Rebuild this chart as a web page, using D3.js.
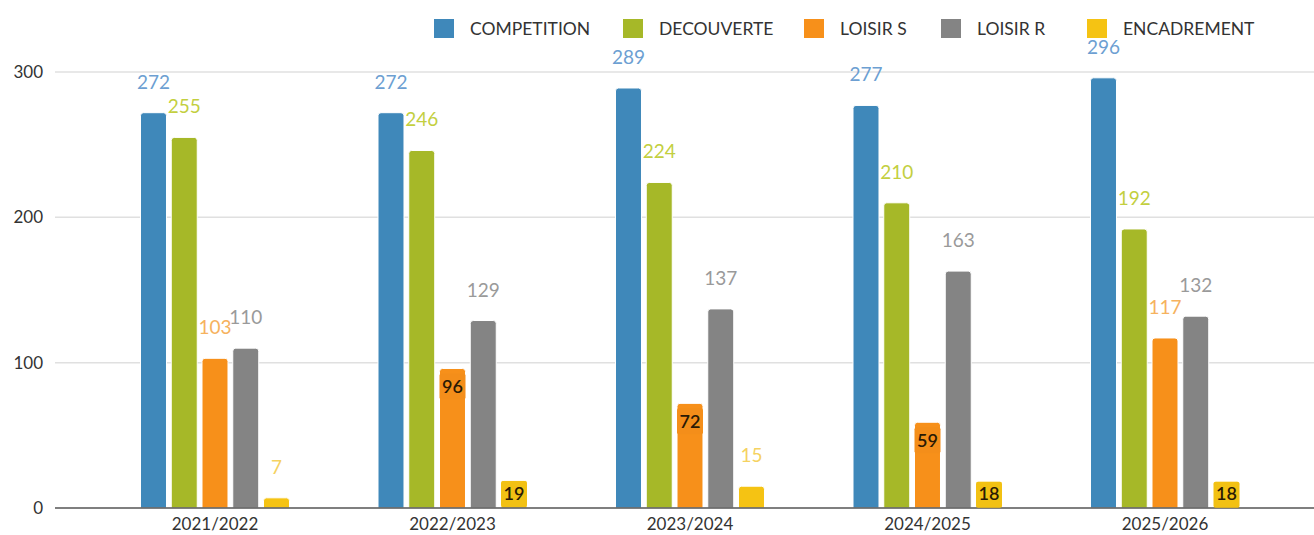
<!DOCTYPE html>
<html>
<head>
<meta charset="utf-8">
<script src="https://cdn.jsdelivr.net/npm/d3@7"></script>
<style>
  html, body { margin: 0; padding: 0; background: #fff; }
  svg { display: block; font-family: Lato, "Open Sans", sans-serif; }
</style>
</head>
<body>
<svg id="chart" width="1314" height="535"></svg>
<script>
// ---- data ----
const categories = ["2021/2022", "2022/2023", "2023/2024", "2024/2025", "2025/2026"];
const seriesNames = ["COMPETITION", "DECOUVERTE", "LOISIR S", "LOISIR R", "ENCADREMENT"];
const competition = [272, 272, 289, 277, 296];
const decouverte  = [255, 246, 224, 210, 192];
const loisirS     = [103, 96, 72, 59, 117];
const loisirR     = [110, 129, 137, 163, 132];
const encadrement = [7, 19, 15, 18, 18];
const yTicks = [0, 100, 200, 300];

// ---- styles ----
const barColors   = ["#3f88ba", "#a6b828", "#f7901a", "#848484", "#f5c313"];
const labelColors = ["#6d9fd2", "#c3cf3f", "#f6b25e", "#9a9a9a", "#f5d261"];
// labels that the original chart drew inside their bars (collision layout)
const insideLabels = new Set(["1|2", "1|4", "2|2", "3|2", "3|4", "4|4"]);

const seriesValues = [competition, decouverte, loisirS, loisirR, encadrement];
const rows = [];
categories.forEach((c, ci) => {
  seriesNames.forEach((s, si) => {
    rows.push({ cat: c, ci, series: s, si, value: seriesValues[si][ci] });
  });
});

const svg = d3.select("#chart");

const x0 = d3.scaleBand().domain(categories).range([96.25, 1283.75]).padding(0);
const groupW = 153.75;
const x1 = d3.scaleBand().domain(seriesNames).range([0, groupW]).paddingInner(0.155).paddingOuter(0.0775);
const y = d3.scaleLinear().domain([0, 300]).range([508, 72]);

// gridlines
svg.append("g").selectAll("line").data(yTicks.filter(d => d !== 0)).join("line")
  .attr("x1", 55).attr("x2", 1314)
  .attr("y1", d => y(d)).attr("y2", d => y(d))
  .attr("stroke", "#e0e0e0").attr("stroke-width", 1.5);

// y axis labels
svg.append("g").selectAll("text").data(yTicks).join("text")
  .attr("x", 43).attr("y", d => y(d)).attr("dy", "0.35em")
  .attr("text-anchor", "end").attr("font-size", 17).attr("fill", "#333")
  .text(d => d);

// bars
const groupX = c => x0(c) + x0.bandwidth() / 2 - groupW / 2;
const r = 3;
function barPath(xl, w, yt, yb) {
  const rr = Math.min(r, (yb - yt));
  return `M${xl},${yb}V${yt + rr}Q${xl},${yt} ${xl + rr},${yt}H${xl + w - rr}Q${xl + w},${yt} ${xl + w},${yt + rr}V${yb}Z`;
}
svg.append("g").selectAll("path").data(rows).join("path")
  .attr("d", d => barPath(groupX(d.cat) + x1(d.series), x1.bandwidth(), y(d.value), y(0)))
  .attr("fill", d => barColors[d.si])
  .attr("stroke", "#fff").attr("stroke-width", 1);

// zero line
svg.append("line").attr("x1", 55).attr("x2", 1314).attr("y1", y(0)).attr("y2", y(0))
  .attr("stroke", "#555").attr("stroke-width", 1.5);

// x axis labels
svg.append("g").selectAll("text").data(categories).join("text")
  .attr("x", d => x0(d) + x0.bandwidth() / 2).attr("y", 530)
  .attr("text-anchor", "middle").attr("font-size", 17).attr("fill", "#333")
  .text(d => d);

// data labels
const lg = svg.append("g");
rows.forEach(d => {
  const cx = groupX(d.cat) + x1(d.series) + x1.bandwidth() / 2;
  const top = y(d.value), bottom = y(0);
  if (insideLabels.has(d.ci + "|" + d.si)) {
    const cy = Math.min(top + 18, bottom - 14);
    lg.append("rect")
      .attr("x", cx - 13).attr("y", Math.max(top, cy - 13))
      .attr("width", 26).attr("height", Math.min(26, bottom - Math.max(top, cy - 13)))
      .attr("rx", 2)
      .attr("fill", d3.color(barColors[d.si]).darker(0.03));
    lg.append("text")
      .attr("x", cx).attr("y", cy).attr("dy", "0.36em")
      .attr("text-anchor", "middle").attr("font-size", 18).attr("font-weight", 600)
      .attr("fill", "#2a1a05")
      .text(d.value);
  } else {
    lg.append("text")
      .attr("x", cx).attr("y", top - 24)
      .attr("text-anchor", "middle").attr("font-size", 19)
      .attr("fill", labelColors[d.si])
      .text(d.value);
  }
});

// legend
const legendTextX = [470, 659, 840, 977, 1123];
const leg = svg.append("g").selectAll("g").data(seriesNames).join("g")
  .attr("transform", (d, i) => `translate(${legendTextX[i] - 36},19)`);
leg.append("rect").attr("width", 20).attr("height", 19).attr("fill", (d, i) => barColors[i]);
leg.append("text").attr("x", 36).attr("y", 9.5).attr("dy", "0.36em")
  .attr("font-size", 17.5).attr("fill", "#333").text(d => d);
</script>
</body>
</html>
